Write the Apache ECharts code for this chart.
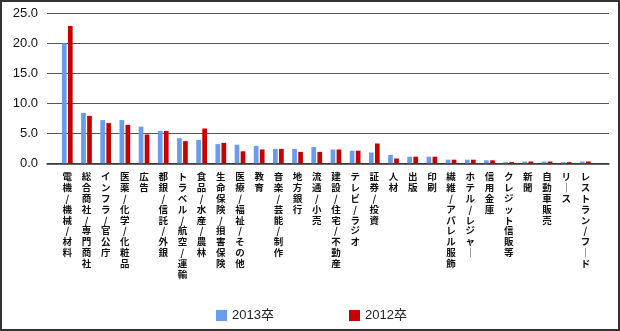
<!DOCTYPE html>
<html>
<head>
<meta charset="utf-8">
<script src="https://cdn.jsdelivr.net/npm/echarts@6/dist/echarts.min.js"></script>
<style>
html,body{margin:0;padding:0;background:#fff;}
#c{width:620px;height:331px;}
</style>
</head>
<body>
<div id="c"></div>
<script>
var categories = [
  '電機/機械/材料','総合商社/専門商社','インフラ/官公庁','医薬/化学/化粧品','広告',
  '都銀/信託/外銀','トラベル/航空/運輸','食品/水産/農林','生命保険/損害保険','医療/福祉/その他',
  '教育','音楽/芸能/制作','地方銀行','流通/小売','建設/住宅/不動産',
  'テレビ/ラジオ','証券/投資','人材','出版','印刷',
  '繊維/アパレル服飾','ホテル/レジャー','信用金庫','クレジット信販等','新聞',
  '自動車販売','リース','レストラン/フード'
];
var seriesNames = ['2013卒', '2012卒'];
var values2013 = [20.0, 8.4, 7.2, 7.2, 6.1, 5.4, 4.2, 3.9, 3.2, 3.1, 2.9, 2.4, 2.4, 2.7, 2.3, 2.1, 1.8, 1.4, 1.1, 1.1, 0.6, 0.6, 0.5, 0.2, 0.3, 0.3, 0.2, 0.3];
var values2012 = [22.9, 7.9, 6.7, 6.4, 4.8, 5.4, 3.7, 5.8, 3.4, 2.0, 2.3, 2.4, 1.9, 1.9, 2.3, 2.1, 3.3, 0.8, 1.1, 1.1, 0.6, 0.6, 0.5, 0.2, 0.3, 0.3, 0.2, 0.3];
var yTicks = [0, 5, 10, 15, 20, 25];

var chart = echarts.init(document.getElementById('c'), null, {renderer: 'canvas'});
var yMin = yTicks[0], yMax = yTicks[yTicks.length - 1], yStep = yTicks[1] - yTicks[0];

function vertical(s) {
  return s.split('').map(function (ch) { return ch === 'ー' ? '｜' : ch; }).join('\n');
}

chart.setOption({
  animation: false,
  backgroundColor: '#fff',
  graphic: [{
    type: 'rect', shape: {x: 1, y: 1, width: 618, height: 329},
    style: {fill: 'none', stroke: '#333', lineWidth: 2}, silent: true, z: 100
  }],
  legend: [{
    data: [seriesNames[0]], left: 216, top: 309, padding: 0, itemWidth: 11, itemHeight: 11, itemGap: 4,
    icon: 'rect', textStyle: {fontSize: 13, color: '#222', fontFamily: 'Liberation Sans, Noto Sans CJK JP'}
  }, {
    data: [seriesNames[1]], left: 349, top: 309, padding: 0, itemWidth: 11, itemHeight: 11, itemGap: 4,
    icon: 'rect', textStyle: {fontSize: 13, color: '#222', fontFamily: 'Liberation Sans, Noto Sans CJK JP'}
  }],
  grid: [
    {left: 47, right: 11, top: 13.3, bottom: 331 - 163.3},
    {left: 57.7, right: 25, top: 13.3, bottom: 331 - 163.3}
  ],
  xAxis: [{
    gridIndex: 0, type: 'value', min: 0, max: 1,
    axisLine: {show: true, lineStyle: {color: '#333', width: 1.5}},
    axisTick: {show: false}, axisLabel: {show: false}, splitLine: {show: false}
  }, {
    gridIndex: 1, type: 'category', data: categories,
    axisLine: {show: false}, axisTick: {show: false},
    axisLabel: {
      interval: 0, margin: 8, fontSize: 9.5, lineHeight: 10.8, color: '#111',
      fontWeight: 'bold', fontFamily: 'Noto Sans CJK JP',
      verticalAlign: 'top', formatter: vertical
    }
  }],
  yAxis: [{
    gridIndex: 0, type: 'value', min: yMin, max: yMax, interval: yStep,
    axisLine: {show: false}, axisTick: {show: false},
    axisLabel: {margin: 9, fontSize: 13, color: '#111', fontFamily: 'Liberation Sans',
      formatter: function (v) { return v.toFixed(1); }},
    splitLine: {show: true, lineStyle: {color: '#555', width: 1}}
  }, {
    gridIndex: 1, type: 'value', min: yMin, max: yMax, interval: yStep,
    axisLine: {show: false}, axisTick: {show: false}, axisLabel: {show: false},
    splitLine: {show: false}
  }],
  series: [{
    name: seriesNames[0], type: 'bar', xAxisIndex: 1, yAxisIndex: 1,
    data: values2013, barWidth: 4.7, barGap: '28%',
    itemStyle: {color: '#6a9cec'}
  }, {
    name: seriesNames[1], type: 'bar', xAxisIndex: 1, yAxisIndex: 1,
    data: values2012, barWidth: 4.7, barGap: '28%',
    itemStyle: {color: '#c80000'}
  }]
});
</script>
</body>
</html>
